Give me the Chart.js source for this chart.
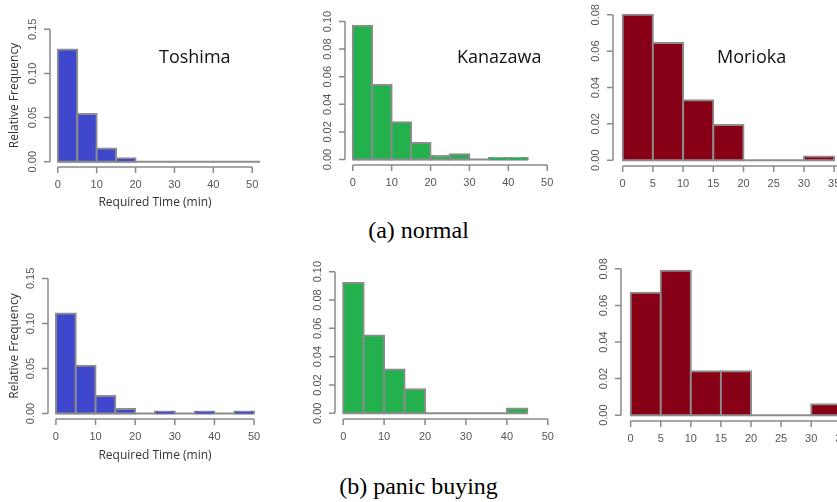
<!DOCTYPE html>
<html>
<head>
<meta charset="utf-8">
<script src="https://cdn.jsdelivr.net/npm/chart.js@4.4.0/dist/chart.umd.min.js"></script>
<style>
  html, body { margin: 0; padding: 0; background: #fff; }
  body { width: 837px; height: 502px; position: relative; overflow: hidden; }
  canvas { position: absolute; }
  .city { position: absolute; font-family: 'Open Sans', sans-serif; font-size: 18px; line-height: 18px; color: #111; white-space: nowrap; }
  .caption { position: absolute; left: 0; width: 837px; text-align: center; font-family: 'Liberation Serif', serif; font-size: 24px; line-height: 24px; color: #000; }
</style>
</head>
<body>
<canvas id="toshimaA" width="280" height="215" style="left:0px;top:0px"></canvas>
<canvas id="kanazawaA" width="270" height="215" style="left:300px;top:0px"></canvas>
<canvas id="moriokaA" width="320" height="215" style="left:570px;top:0px"></canvas>
<canvas id="toshimaB" width="280" height="215" style="left:0px;top:255px"></canvas>
<canvas id="kanazawaB" width="280" height="215" style="left:290px;top:250px"></canvas>
<canvas id="moriokaB" width="320" height="215" style="left:575px;top:250px"></canvas>

<div class="city" style="left:159px;top:47px">Toshima</div>
<div class="city" style="left:457px;top:47px">Kanazawa</div>
<div class="city" style="left:717px;top:47px">Morioka</div>
<div class="caption" style="top:218px">(a) normal</div>
<div class="caption" style="top:474px">(b) panic buying</div>

<script>
// histogram bins are 5 minutes wide, starting at 0
const binWidth = 5;

// relative frequency per bin (normal)
const toshimaNormal = [0.127, 0.054, 0.015, 0.004, 0, 0, 0, 0, 0, 0, 0];
const kanazawaNormal = [0.097, 0.054, 0.027, 0.012, 0.0025, 0.0038, 0, 0.001, 0.001];
const moriokaNormal = [0.080, 0.0645, 0.033, 0.0193, 0, 0, 0.002];

// relative frequency per bin (panic buying)
const toshimaPanic = [0.111, 0.053, 0.0195, 0.0052, 0, 0.0022, 0, 0.0022, 0, 0.0022];
const kanazawaPanic = [0.092, 0.055, 0.031, 0.017, 0, 0, 0, 0, 0.0035];
const moriokaPanic = [0.067, 0.079, 0.024, 0.024, 0, 0, 0.0059];

// axis ticks
const toshimaXTicks = [0, 10, 20, 30, 40, 50];
const kanazawaXTicks = [0, 10, 20, 30, 40, 50];
const moriokaXTicks = [0, 5, 10, 15, 20, 25, 30, 35, 40];
const toshimaYTicks = [0, 0.05, 0.10, 0.15];
const kanazawaYTicks = [0, 0.02, 0.04, 0.06, 0.08, 0.10];
const moriokaYTicks = [0, 0.02, 0.04, 0.06, 0.08];

const xTitle = 'Required Time (min)';
const yTitle = 'Relative Frequency';

const blue = '#3F48CC';
const green = '#22B14C';
const darkRed = '#880015';
const edgeGray = '#8c8c8c';
const axisGray = '#8a8a8a';
const tickText = '#555';

// R-like axes: a line from the first to the last tick at the edge of the plot area,
// plus the flat line that hist() draws under empty bins
const rStyle = {
    id: 'rStyle',
    beforeDatasetsDraw(chart) {
        const { ctx, chartArea, scales: { x, y } } = chart;
        const n = chart.data.datasets[0].data.length;
        ctx.save();
        ctx.beginPath();
        ctx.rect(chartArea.left, chartArea.top, chartArea.width, chartArea.height);
        ctx.clip();
        ctx.strokeStyle = edgeGray;
        ctx.lineWidth = 2;
        ctx.beginPath();
        ctx.moveTo(x.getPixelForValue(0), y.getPixelForValue(0));
        ctx.lineTo(x.getPixelForValue(n * binWidth), y.getPixelForValue(0));
        ctx.stroke();
        ctx.restore();
    },
    afterDraw(chart) {
        const { ctx, chartArea, scales: { x, y } } = chart;
        ctx.save();
        ctx.strokeStyle = axisGray;
        ctx.lineWidth = 1.5;

        const xs = x.ticks.map(t => x.getPixelForValue(t.value));
        const yb = chartArea.bottom;
        ctx.beginPath();
        ctx.moveTo(xs[0], yb);
        ctx.lineTo(xs[xs.length - 1], yb);
        xs.forEach(px => { ctx.moveTo(px, yb); ctx.lineTo(px, yb + 6); });
        ctx.stroke();

        const ys = y.ticks.map(t => y.getPixelForValue(t.value));
        const xl = chartArea.left;
        ctx.beginPath();
        ctx.moveTo(xl, ys[0]);
        ctx.lineTo(xl, ys[ys.length - 1]);
        ys.forEach(py => { ctx.moveTo(xl, py); ctx.lineTo(xl - 6, py); });
        ctx.stroke();
        ctx.restore();
    }
};

function drawHist(id, values, color, xTicks, yTicks, lay, withTitles) {
    const xr = xTicks[xTicks.length - 1] - xTicks[0];
    const yr = yTicks[yTicks.length - 1] - yTicks[0];
    return new Chart(document.getElementById(id), {
        type: 'bar',
        data: {
            datasets: [{
                data: values.map((v, i) => ({ x: i * binWidth + binWidth / 2, y: v === 0 ? null : v })),
                backgroundColor: color,
                borderColor: edgeGray,
                borderWidth: 2,
                borderSkipped: false,
                inflateAmount: 1,
                barPercentage: 1,
                categoryPercentage: 1
            }]
        },
        options: {
            responsive: false,
            animation: false,
            devicePixelRatio: 1,
            layout: { autoPadding: false, padding: { top: lay.top, right: lay.right, left: 0, bottom: 0 } },
            plugins: { legend: { display: false }, tooltip: { enabled: false } },
            scales: {
                x: {
                    type: 'linear',
                    offset: false,
                    min: xTicks[0] - 0.04 * xr,
                    max: xTicks[xTicks.length - 1] + 0.04 * xr,
                    grid: { display: false, drawTicks: false },
                    border: { display: false },
                    ticks: { padding: 11, autoSkip: false, maxRotation: 0, color: tickText,
                             font: { family: 'Liberation Sans', size: 11 } },
                    title: { display: withTitles, text: xTitle, color: '#333',
                             padding: { top: 0, bottom: lay.xTitlePad || 0 },
                             font: { family: 'Open Sans', size: 12 } },
                    afterBuildTicks: s => { s.ticks = xTicks.map(v => ({ value: v })); },
                    afterFit: s => { s.height = lay.xHeight; s.paddingLeft = 0; s.paddingRight = 0; }
                },
                y: {
                    min: yTicks[0] - 0.04 * yr,
                    max: yTicks[yTicks.length - 1] + 0.04 * yr,
                    grid: { display: false, drawTicks: false },
                    border: { display: false },
                    ticks: { padding: 6, autoSkip: false, minRotation: 90, maxRotation: 90, crossAlign: 'center',
                             color: tickText, font: { family: 'Liberation Sans', size: 11 },
                             callback: v => v.toFixed(2) },
                    title: { display: withTitles, text: yTitle, color: '#333',
                             padding: { top: 7, bottom: 0 },
                             font: { family: 'Open Sans', size: 12 } },
                    afterBuildTicks: s => { s.ticks = yTicks.map(v => ({ value: v })); },
                    afterFit: s => { s.width = lay.yWidth; s.paddingTop = 0; s.paddingBottom = 0; }
                }
            }
        },
        plugins: [rStyle]
    });
}

drawHist('toshimaA', toshimaNormal, blue, toshimaXTicks, toshimaYTicks,
    { yWidth: 50, xHeight: 48, top: 24, right: 20, xTitlePad: 5 }, true);
drawHist('kanazawaA', kanazawaNormal, green, kanazawaXTicks, kanazawaYTicks,
    { yWidth: 45, xHeight: 50, top: 16, right: 15 }, false);
drawHist('moriokaA', moriokaNormal, darkRed, moriokaXTicks, moriokaYTicks,
    { yWidth: 43, xHeight: 49, top: 9, right: 16 }, false);
drawHist('toshimaB', toshimaPanic, blue, toshimaXTicks, toshimaYTicks,
    { yWidth: 48, xHeight: 51, top: 18, right: 18, xTitlePad: 7 }, true);
drawHist('kanazawaB', kanazawaPanic, green, kanazawaXTicks, kanazawaYTicks,
    { yWidth: 45, xHeight: 46, top: 16, right: 14 }, false);
drawHist('moriokaB', moriokaPanic, darkRed, moriokaXTicks, moriokaYTicks,
    { yWidth: 46, xHeight: 44, top: 13, right: 14 }, false);
</script>
</body>
</html>
